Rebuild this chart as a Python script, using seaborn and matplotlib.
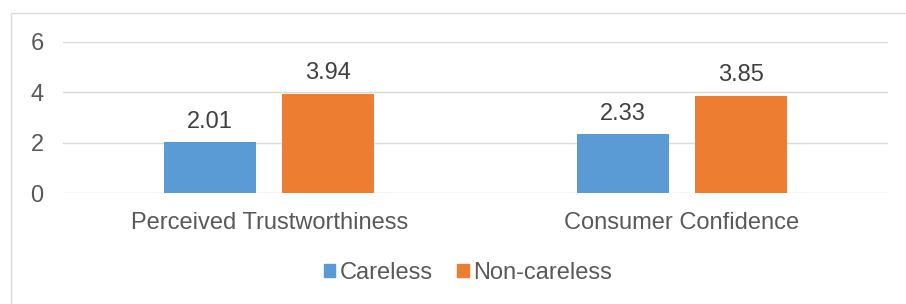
import pandas as pd
import matplotlib
matplotlib.use('Agg')
import matplotlib.pyplot as plt
import matplotlib.patches as mpatches
import seaborn as sns

# Chart values
categories = ['Perceived Trustworthiness', 'Consumer Confidence']
groups = ['Careless', 'Non-careless']
careless = [2.01, 2.33]
non_careless = [3.94, 3.85]
yticks = [0, 2, 4, 6]

colors = ['#5B9BD5', '#ED7D31']
text_color = '#595959'
grid_color = '#D9D9D9'

df = pd.DataFrame({
    'Category': categories * 2,
    'Group': [groups[0]] * len(categories) + [groups[1]] * len(categories),
    'Value': careless + non_careless,
})

sns.set_style('white')
plt.rcParams['font.family'] = ['Liberation Sans', 'DejaVu Sans']
fs = 17

fig = plt.figure(figsize=(9.06, 3.04), dpi=100)
ax = fig.add_axes([63 / 906, 1 - 193 / 304, 825 / 906, 151 / 304])

sns.barplot(data=df, x='Category', y='Value', hue='Group', palette=colors,
            width=0.572, gap=0.22, linewidth=0, saturation=1, ax=ax, legend=False)

for cont in ax.containers:
    ax.bar_label(cont, fmt='%.2f', padding=7, fontsize=fs, color='#404040')

ax.set_ylim(0, 6)
ax.set_xlim(-0.5, 1.5)
ax.set_yticks(yticks)
ax.yaxis.grid(True, color=grid_color, linewidth=1.0)
ax.set_axisbelow(True)
for s in ax.spines.values():
    s.set_visible(False)
ax.tick_params(axis='y', length=0, pad=14, labelsize=fs, labelcolor=text_color)
ax.tick_params(axis='x', length=0, pad=14, labelsize=fs, labelcolor=text_color)
ax.set_xlabel('')
ax.set_ylabel('')

# Chart border (cropped at right and bottom)
border = mpatches.Rectangle((11 / 906, -0.2), 1.2, 1 - 13 / 304 + 0.2,
                            transform=fig.transFigure, fill=False,
                            edgecolor=grid_color, linewidth=1.0)
fig.patches.append(border)

handles = [mpatches.Patch(color=c, label=g) for c, g in zip(colors, groups)]
fig.legend(handles=handles, loc='center', bbox_to_anchor=(468 / 906, 1 - 273 / 304),
           ncol=2, frameon=False, fontsize=fs, labelcolor=text_color,
           handlelength=0.5, handleheight=0.5, handletextpad=0.2,
           columnspacing=1.0, borderpad=0, borderaxespad=0)

fig.savefig('out.png', dpi=100)
